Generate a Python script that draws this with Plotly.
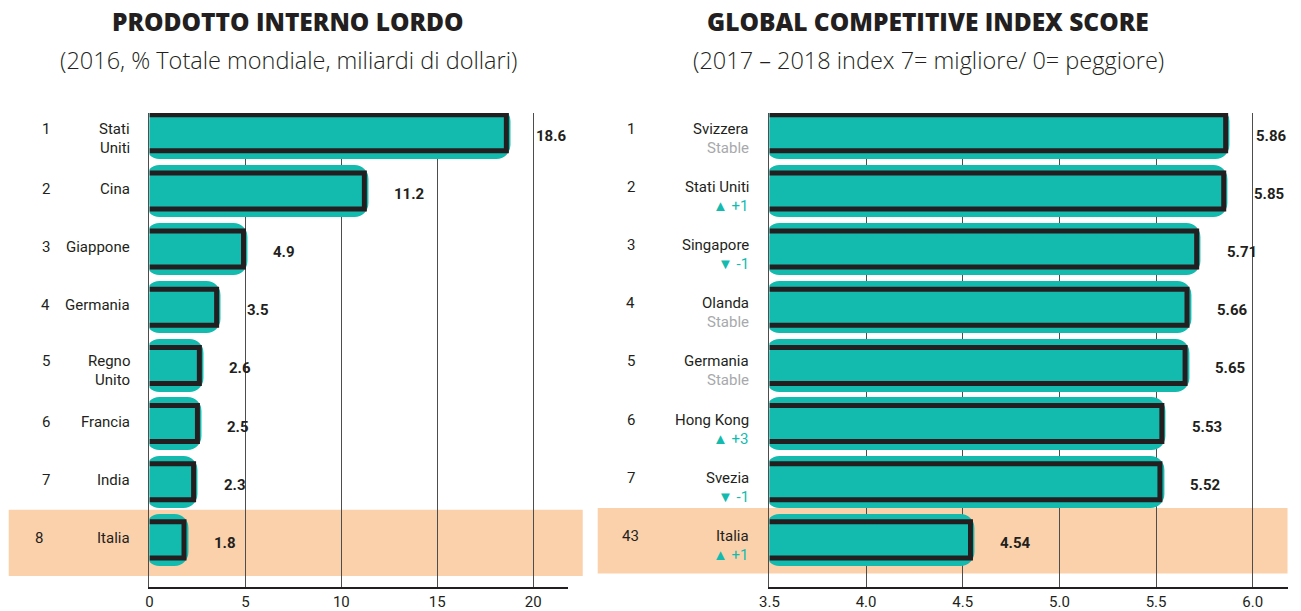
import plotly.graph_objects as go

# --- data ---
gdp_ranks = ["1", "2", "3", "4", "5", "6", "7", "8"]
gdp_countries = ["Stati<br>Uniti", "Cina", "Giappone", "Germania", "Regno<br>Unito", "Francia", "India", "Italia"]
gdp_values = [18.6, 11.2, 4.9, 3.5, 2.6, 2.5, 2.3, 1.8]
gdp_ticks = [0, 5, 10, 15, 20]

gci_ranks = ["1", "2", "3", "4", "5", "6", "7", "43"]
gci_countries = ["Svizzera", "Stati Uniti", "Singapore", "Olanda", "Germania", "Hong Kong", "Svezia", "Italia"]
gci_changes = ["Stable", "+1", "-1", "Stable", "Stable", "+3", "-1", "+1"]
gci_values = [5.86, 5.85, 5.71, 5.66, 5.65, 5.53, 5.52, 4.54]
gci_ticks = [3.5, 4.0, 4.5, 5.0, 5.5, 6.0]
gci_base = 3.5

TEAL = "#13bbaf"
DARK = "#231f20"
PEACH = "#fbd1ac"
GREY = "#a7a9ac"
FONT = "Roboto"
W, H = 1301, 611

HALF = 0.31  # half height of the outline bracket, in row units


def px(x):
    # page pixel -> paper fraction (small correction for how the page gets captured)
    return (x - 8.3) / 0.994 / W


def bracket(values, base):
    xs, ys = [], []
    for i, v in enumerate(values):
        xs += [base, v, v, base, None]
        ys += [i - HALF, i - HALF, i + HALF, i + HALF, None]
    return xs, ys


def teal_bar(values, base, xa, ya):
    # drawn from the value back to the base so the rounded end sits on the left
    return go.Bar(
        x=[base - v for v in values], base=values, y=list(range(len(values))), orientation="h",
        width=0.76, marker=dict(color=TEAL, line=dict(color=TEAL, width=8), cornerradius=10),
        cliponaxis=False, xaxis=xa, yaxis=ya, hoverinfo="skip",
    )


fig = go.Figure()
rows = list(range(len(gdp_values)))

# left panel: GDP
fig.add_trace(teal_bar(gdp_values, 0, "x", "y"))
bx, by = bracket(gdp_values, 0)
fig.add_trace(go.Scatter(x=bx, y=by, mode="lines", line=dict(color=DARK, width=5),
                         xaxis="x", yaxis="y", hoverinfo="skip"))

# right panel: GCI
fig.add_trace(teal_bar(gci_values, gci_base, "x2", "y2"))
bx, by = bracket(gci_values, gci_base)
fig.add_trace(go.Scatter(x=bx, y=by, mode="lines", line=dict(color=DARK, width=5),
                         xaxis="x2", yaxis="y2", hoverinfo="skip"))

annotations = []
label_font = dict(family=FONT, size=15, color=DARK)

# titles
for cx, title, sub in [
    (287, "PRODOTTO INTERNO LORDO", "(2016, % Totale mondiale, miliardi di dollari)"),
    (928, "GLOBAL COMPETITIVE INDEX SCORE", "(2017 – 2018 index 7= migliore/ 0= peggiore)"),
]:
    annotations.append(dict(x=px(cx), y=1 - 22 / H, xref="paper", yref="paper", text=title,
                            xanchor="center", yanchor="middle", showarrow=False,
                            font=dict(family="Open Sans", size=24.5, color=DARK, weight=800)))
    annotations.append(dict(x=px(cx), y=1 - 60 / H, xref="paper", yref="paper", text=sub,
                            xanchor="center", yanchor="middle", showarrow=False,
                            font=dict(family="Open Sans", size=23.5, color=DARK, weight=300)))

# left row labels
for i, (rk, name, v) in enumerate(zip(gdp_ranks, gdp_countries, gdp_values)):
    lines = name.split("<br>")
    shift = 4 if len(lines) > 1 else 2
    annotations.append(dict(x=px(44 if i < 7 else 37), y=i, xref="paper", yref="y", text=rk,
                            xanchor="center", showarrow=False, font=label_font, yshift=shift))
    for k, ln in enumerate(lines):
        annotations.append(dict(x=px(131), y=i, xref="paper", yref="y", text=ln, xanchor="right",
                                showarrow=False, font=label_font, yshift=shift - 19 * k))
    annotations.append(dict(x=v, y=i, xref="x", yref="y", text=f"<b>{v}</b>", xanchor="left",
                            xshift=28, yshift=-3, showarrow=False, font=label_font))

# right row labels
for i, (rk, name, ch, v) in enumerate(zip(gci_ranks, gci_countries, gci_changes, gci_values)):
    annotations.append(dict(x=px(630), y=i, xref="paper", yref="y2", text=rk, xanchor="center",
                            showarrow=False, font=label_font, yshift=4))
    annotations.append(dict(x=px(751), y=i, xref="paper", yref="y2", text=name, xanchor="right",
                            showarrow=False, font=label_font, yshift=4))
    if ch == "Stable":
        sub = dict(text=ch, font=dict(family=FONT, size=15, color=GREY))
    else:
        tri = "▲" if ch.startswith("+") else "▼"
        sub = dict(text=f"<span style='font-size:15px'>{tri}</span> {ch}",
                   font=dict(family=FONT, size=15, color=TEAL))
    annotations.append(dict(x=px(751), y=i, xref="paper", yref="y2", xanchor="right",
                            showarrow=False, yshift=-15, **sub))
    annotations.append(dict(x=v, y=i, xref="x2", yref="y2", text=f"<b>{v:.2f}</b>", xanchor="left",
                            xshift=28, yshift=-3, showarrow=False, font=label_font))

# highlight bands for Italia
italy = len(rows) - 1
shapes = [
    dict(type="rect", xref="paper", yref="y", x0=px(7), x1=px(582), y0=italy - 0.52, y1=italy + 0.62,
         fillcolor=PEACH, line=dict(width=0), layer="below"),
    dict(type="rect", xref="paper", yref="y2", x0=px(597), x1=px(1288), y0=italy - 0.55, y1=italy + 0.58,
         fillcolor=PEACH, line=dict(width=0), layer="below"),
]

ydom = [1 - 587 / H, 1 - 113 / H]
yrange = [7.81, -0.34]
axis_common = dict(showgrid=True, gridcolor="#4d4d4d", gridwidth=1, showline=True, linecolor=DARK,
                   linewidth=1.5, zeroline=False, ticks="", tickfont=dict(family=FONT, size=15, color=DARK),
                   fixedrange=True)

fig.update_layout(
    width=W, height=H,
    margin=dict(l=0, r=0, t=0, b=0),
    paper_bgcolor="white", plot_bgcolor="rgba(0,0,0,0)",
    showlegend=False, bargap=0,
    xaxis=dict(domain=[px(148), px(567)], range=[0, 21.8], tickvals=gdp_ticks, anchor="y", **axis_common),
    xaxis2=dict(domain=[px(769), px(1288)], range=[3.5, 6.18], tickvals=gci_ticks, tickformat=".1f",
                anchor="y2", **axis_common),
    yaxis=dict(domain=ydom, range=yrange, showticklabels=False, showgrid=False, zeroline=False,
               showline=True, linecolor="#4d4d4d", linewidth=1, anchor="x", fixedrange=True),
    yaxis2=dict(domain=ydom, range=yrange, showticklabels=False, showgrid=False, zeroline=False,
                showline=True, linecolor="#4d4d4d", linewidth=1, anchor="x2", fixedrange=True),
    annotations=annotations,
    shapes=shapes,
)

fig.write_html("out.html", config={"displayModeBar": False},
               post_script="document.body.style.margin='0';document.body.style.overflow='hidden';")
